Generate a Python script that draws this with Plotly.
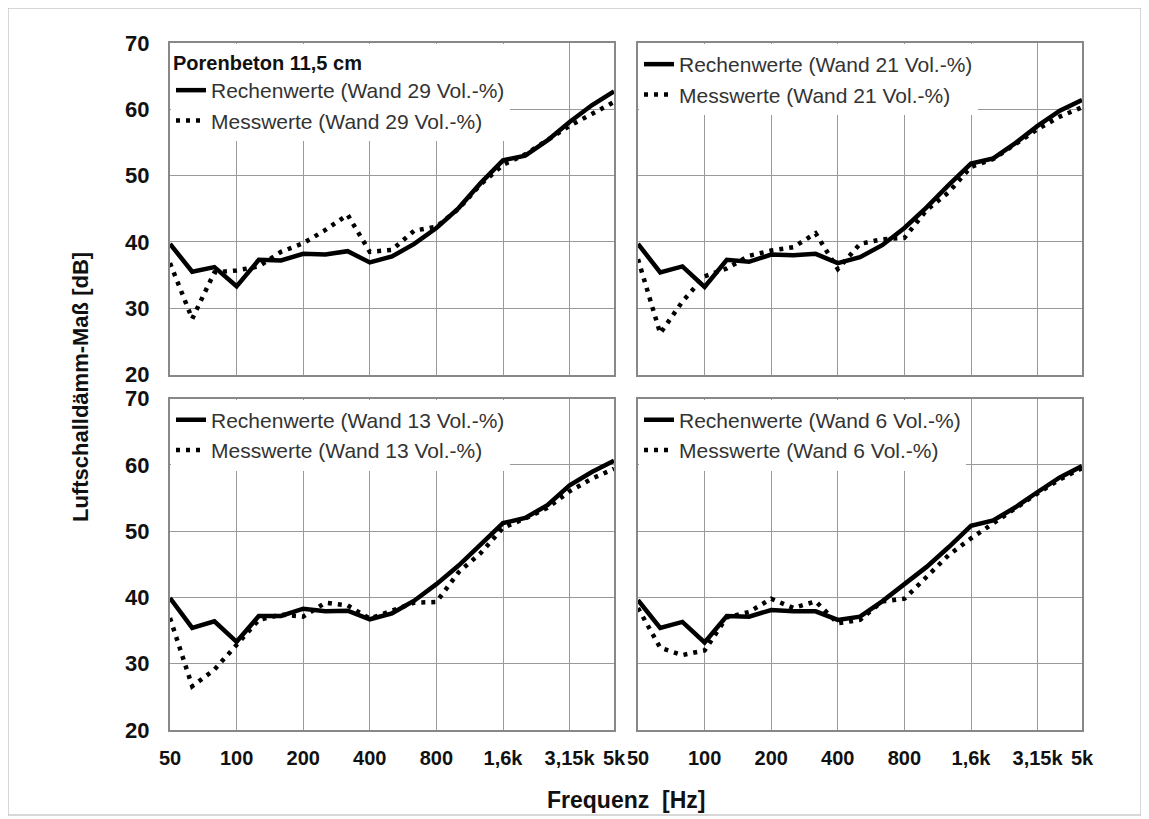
import plotly.graph_objects as go

# Third-octave band centre frequencies (categories)
freqs = ["50", "63", "80", "100", "125", "160", "200", "250", "315", "400", "500",
         "630", "800", "1000", "1250", "1600", "2000", "2500", "3150", "4000", "5000"]
tick_vals = ["50", "100", "200", "400", "800", "1600", "3150", "5000"]
tick_text = ["50", "100", "200", "400", "800", "1,6k", "3,15k", "5k"]
y_ticks = [20, 30, 40, 50, 60, 70]

# Wand 29 Vol.-%
calc_29 = [39.7, 35.5, 36.2, 33.3, 37.3, 37.2, 38.2, 38.1, 38.6, 36.9, 37.8,
           39.7, 42.1, 45.1, 48.9, 52.3, 53.0, 55.3, 58.1, 60.6, 62.7]
meas_29 = [36.8, 28.4, 35.4, 35.7, 36.3, 38.5, 39.8, 41.8, 44.1, 38.5, 38.8,
           41.7, 42.3, 45.0, 48.7, 51.6, 53.2, 55.4, 57.5, 59.3, 61.1]
# Wand 21 Vol.-%
calc_21 = [39.7, 35.4, 36.3, 33.2, 37.3, 37.0, 38.1, 38.0, 38.2, 36.8, 37.7,
           39.5, 42.1, 45.2, 48.6, 51.8, 52.6, 54.9, 57.5, 59.8, 61.4]
meas_21 = [37.4, 26.2, 31.0, 34.8, 36.0, 37.9, 38.7, 39.2, 41.3, 35.9, 39.7,
           40.4, 40.6, 44.8, 47.5, 51.3, 52.5, 54.8, 57.0, 58.9, 60.3]
# Wand 13 Vol.-%
calc_13 = [39.9, 35.4, 36.4, 33.3, 37.2, 37.2, 38.3, 37.9, 38.0, 36.7, 37.6,
           39.5, 42.0, 44.8, 48.0, 51.2, 52.0, 53.9, 56.9, 58.9, 60.6]
meas_13 = [36.9, 26.6, 29.1, 32.8, 36.6, 37.4, 37.1, 39.2, 38.8, 36.8, 38.0,
           39.2, 39.3, 43.8, 46.7, 50.5, 51.9, 53.5, 56.0, 57.9, 59.4]
# Wand 6 Vol.-%
calc_6 = [39.6, 35.4, 36.3, 33.2, 37.2, 37.1, 38.1, 37.9, 37.9, 36.6, 37.1,
          39.4, 42.0, 44.6, 47.6, 50.8, 51.6, 53.6, 55.9, 58.1, 59.8]
meas_6 = [38.4, 32.4, 31.3, 32.0, 37.0, 37.8, 39.8, 38.4, 39.4, 36.1, 36.6,
          39.4, 39.8, 43.2, 46.4, 48.9, 51.2, 53.3, 55.7, 57.8, 59.5]

volumes = ["29", "21", "13", "6"]
calc_series = [calc_29, calc_21, calc_13, calc_6]
meas_series = [meas_29, meas_21, meas_13, meas_6]

FONT = "Liberation Sans, Arial, sans-serif"

# The page body adds an 8 px offset; all geometry below is in figure pixels.
OFF = 8
W, H = 1149 - OFF, 819 - OFF
L, R, T, B = 170 - OFF, 1082 - OFF, 43 - OFF, 730 - OFF
PW, PH = R - L, B - T
gap_x, gap_y = 24, 24
col_w = (PW - gap_x) / 2
row_h = (PH - gap_y) / 2

x_domains = [[0, col_w / PW], [(col_w + gap_x) / PW, 1]]
y_domains = [[(row_h + gap_y) / PH, 1], [0, row_h / PH]]


def px_x(p):
    return (p - OFF - L) / PW


def px_y(p):
    return (B - (p - OFF)) / PH


fig = go.Figure()
legend_names = ["legend", "legend2", "legend3", "legend4"]

for k in range(4):
    ax = "" if k == 0 else str(k + 1)
    fig.add_trace(go.Scatter(
        x=freqs, y=calc_series[k], mode="lines",
        name=f"Rechenwerte (Wand {volumes[k]} Vol.-%)",
        line=dict(color="black", width=4.5),
        xaxis="x" + ax, yaxis="y" + ax, legend=legend_names[k],
    ))
    fig.add_trace(go.Scatter(
        x=freqs, y=meas_series[k], mode="lines",
        name=f"Messwerte (Wand {volumes[k]} Vol.-%)",
        line=dict(color="black", width=4.5, dash="4px,6px"),
        xaxis="x" + ax, yaxis="y" + ax, legend=legend_names[k],
    ))

layout = dict(
    width=W, height=H,
    margin=dict(l=L, r=W - R, t=T, b=H - B, pad=0),
    paper_bgcolor="white", plot_bgcolor="white",
    font=dict(family=FONT, color="#111"),
)

for k in range(4):
    row, col = divmod(k, 2)
    ax = "" if k == 0 else str(k + 1)
    layout["xaxis" + ax] = dict(
        type="category", categoryorder="array", categoryarray=freqs,
        domain=x_domains[col], anchor="y" + ax, range=[0, 20],
        tickmode="array", tickvals=tick_vals, ticktext=tick_text,
        showticklabels=(row == 1), ticks="", ticklabelstandoff=9,
        tickfont=dict(size=20, family=FONT, color="#111", weight="bold"),
        showgrid=True, gridcolor="#999999", gridwidth=1.3,
        showline=True, linecolor="#888888", linewidth=2, mirror=True,
        zeroline=False, fixedrange=True,
    )
    layout["yaxis" + ax] = dict(
        domain=y_domains[row], anchor="x" + ax, range=[20, 70],
        tickmode="array", tickvals=y_ticks,
        showticklabels=(col == 0), ticks="", ticklabelstandoff=14,
        tickfont=dict(size=22, family=FONT, color="#111", weight="bold"),
        showgrid=True, gridcolor="#999999", gridwidth=1.3,
        showline=True, linecolor="#888888", linewidth=2, mirror=True,
        zeroline=False, fixedrange=True,
    )

leg_common = dict(xanchor="left", yanchor="top", bgcolor="white",
                  borderwidth=0, itemwidth=30, tracegroupgap=0,
                  font=dict(size=21, family=FONT, color="#333"))
for k in range(4):
    row, col = divmod(k, 2)
    lg = dict(leg_common)
    lg["x"] = x_domains[col][0] + 1 / PW
    lg["y"] = y_domains[row][1] - 1 / PH
    if k == 0:
        lg["title"] = dict(text="<b>Porenbeton 11,5 cm</b>",
                           font=dict(size=20, family=FONT, color="#111"))
    layout[legend_names[k]] = lg

layout["annotations"] = [
    dict(text="<b>Luftschalldämm-Maß [dB]</b>", textangle=-90,
         xref="paper", yref="paper", x=px_x(80), y=px_y(387),
         xanchor="center", yanchor="middle", showarrow=False,
         font=dict(size=22, family=FONT, color="#111")),
    dict(text="<b>Frequenz  [Hz]</b>",
         xref="paper", yref="paper", x=px_x(626), y=px_y(800),
         xanchor="center", yanchor="middle", showarrow=False,
         font=dict(size=23, family=FONT, color="#111")),
]
layout["shapes"] = [
    dict(type="rect", xref="paper", yref="paper", layer="below",
         x0=px_x(8), x1=px_x(1141), y0=px_y(815), y1=px_y(8),
         line=dict(color="#b0b0b0", width=1)),
]

fig.update_layout(**layout)
fig.write_html("out.html")
